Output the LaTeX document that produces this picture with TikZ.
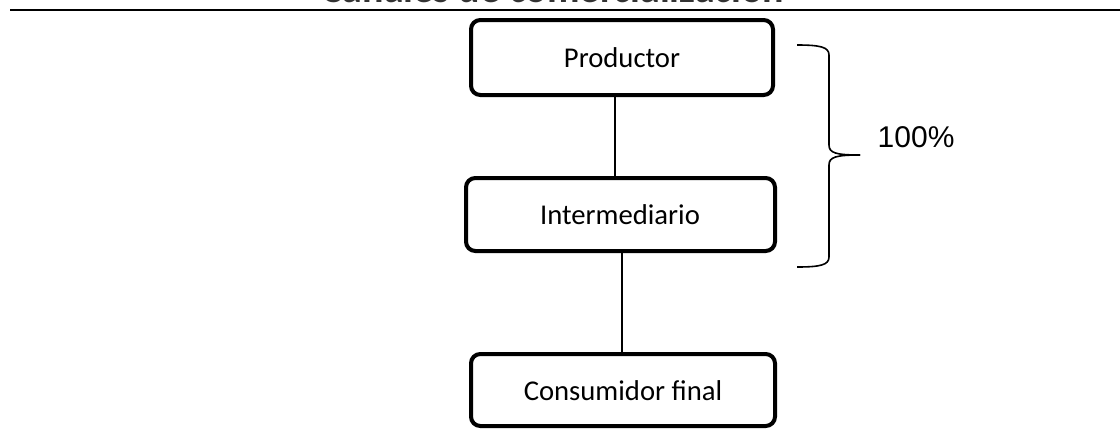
\documentclass[tikz,border=0pt]{standalone}
\usepackage{fontspec}
\setmainfont{Carlito}
\newfontfamily\arialfont{Liberation Sans}
\begin{document}
\begin{tikzpicture}[x=0.75pt,y=-0.75pt,
  boxstyle/.style={draw=black,line width=3pt,rounded corners=7pt,fill=white},
  lbl/.style={font=\fontsize{21.5}{24}\selectfont},
  conn/.style={draw=black,line width=0.9pt}]
\useasboundingbox (0,0) rectangle (1120,429);
\clip (0,0) rectangle (1120,429);
% cut-off title
\node[anchor=base,font=\fontsize{30}{34}\selectfont\bfseries,text=black!80] (title) at (553,2) {Canales de comercialización};
% top rule
\draw[line width=1.6pt] (10,10) -- (1120,10);
% boxes
\draw[boxstyle] (471,20) rectangle (773,95);
\node[lbl] (prod) at (622,58) {Productor};
\draw[boxstyle] (466,178) rectangle (775,251);
\node[lbl] (inter) at (620,215) {Intermediario};
\draw[boxstyle] (471,354) rectangle (775,426);
\node[lbl] (cons) at (623,391) {Consumidor final};
% connector anchors
\coordinate (p1) at (615,97);
\coordinate (p2) at (615,176);
\coordinate (i1) at (622,253);
\coordinate (c1) at (622,352);
\draw[conn] (p1) -- (p2);
\draw[conn] (i1) -- (c1);
% brace
\coordinate (bt) at (797,45);
\coordinate (bb) at (797,267);
\coordinate (tip) at (860,155);
\draw[line width=1.2pt] (bt) .. controls (820,45) and (829,47) .. (829,55)
  -- (829,145) .. controls (829,153) and (836,155) .. (tip);
\draw[line width=1.2pt] (tip) .. controls (836,155) and (829,157) .. (829,165)
  -- (829,257) .. controls (829,265) and (820,267) .. (bb);
\node[font=\arialfont\fontsize{22.5}{26}\selectfont,anchor=base west] (pct) at (873,147) {100\%};
\end{tikzpicture}
\end{document}
